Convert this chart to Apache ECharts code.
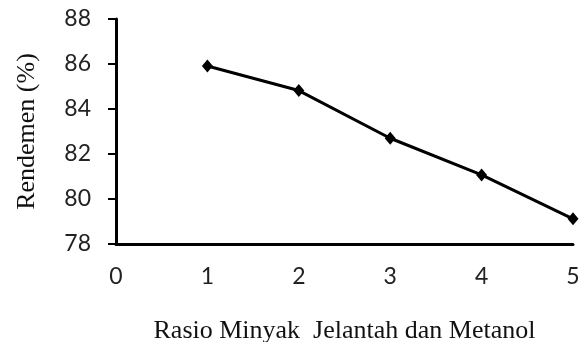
<!DOCTYPE html>
<html>
<head>
<meta charset="utf-8">
<script src="https://cdn.jsdelivr.net/npm/echarts@6/dist/echarts.min.js"></script>
<style>
  html, body { margin: 0; padding: 0; background: #fff; }
  #chart { width: 583px; height: 342px; }
</style>
</head>
<body>
<div id="chart"></div>
<script>
// rasio minyak jelantah : metanol vs rendemen
const rasio = [1, 2, 3, 4, 5];
const rendemen = [85.91, 84.82, 82.7, 81.07, 79.12];

const chart = echarts.init(document.getElementById('chart'));

const option = {
  animation: false,
  grid: {
    left: 116,
    right: 10,
    top: 19,
    bottom: 98,
    outerBoundsMode: 'none',
  },
  xAxis: {
    type: 'value',
    min: 0,
    max: 5,
    interval: 1,
    name: 'Rasio Minyak  Jelantah dan Metanol',
    nameLocation: 'middle',
    nameGap: 74,
    nameTextStyle: {
      fontFamily: 'Liberation Serif',
      fontSize: 26,
      color: '#111',
    },
    axisLine: { show: true, lineStyle: { color: '#000', width: 3 } },
    axisTick: { show: false },
    splitLine: { show: false },
    axisLabel: {
      margin: 21,
      fontFamily: 'Lato',
      fontSize: 23,
      color: '#222',
    },
  },
  yAxis: {
    type: 'value',
    min: 78,
    max: 88,
    interval: 2,
    name: 'Rendemen (%)',
    nameLocation: 'middle',
    nameGap: 76,
    nameTextStyle: {
      fontFamily: 'Liberation Serif',
      fontSize: 26,
      color: '#111',
    },
    axisLine: { show: true, lineStyle: { color: '#000', width: 3 } },
    axisTick: { show: true, length: 8, lineStyle: { color: '#000', width: 2 } },
    splitLine: { show: false },
    axisLabel: {
      margin: 25,
      fontFamily: 'Lato',
      fontSize: 23,
      color: '#222',
    },
  },
  series: [
    {
      type: 'line',
      data: rasio.map((x, i) => [x, rendemen[i]]),
      symbol: 'diamond',
      symbolSize: [11, 13],
      itemStyle: { color: '#000' },
      lineStyle: { color: '#000', width: 3 },
    },
  ],
};

option && chart.setOption(option);
</script>
</body>
</html>
